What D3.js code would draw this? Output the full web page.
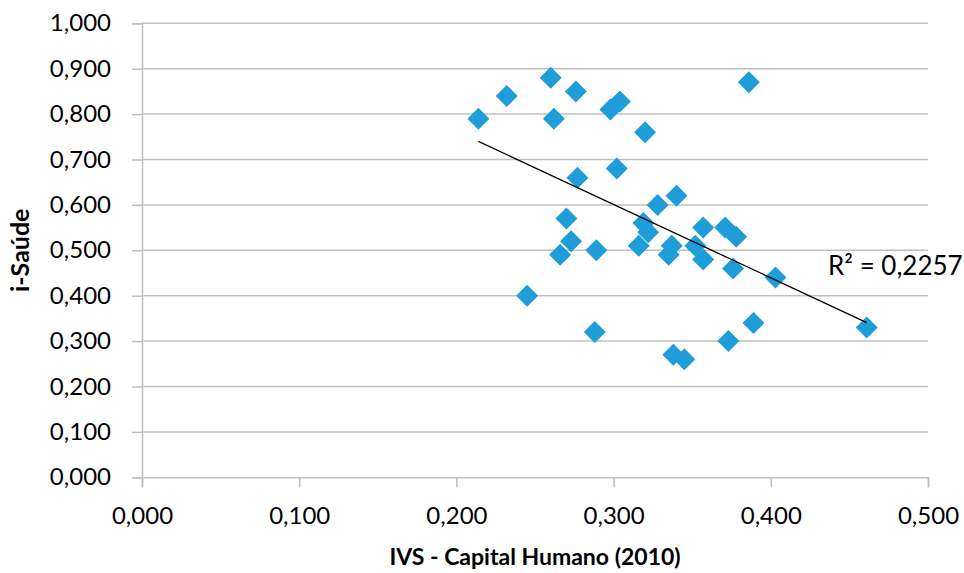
<!DOCTYPE html>
<html><head><meta charset="utf-8">
<script src="https://cdn.jsdelivr.net/npm/d3@7"></script>
<style>body{margin:0;background:#fff}svg{display:block}</style>
</head><body>
<script>
const xValues = [0.214,0.232,0.260,0.262,0.276,0.298,0.304,0.320,0.277,0.302,0.328,0.340,0.270,0.273,0.266,0.289,0.245,0.288,0.316,0.319,0.322,0.337,0.335,0.338,0.345,0.357,0.371,0.378,0.352,0.357,0.376,0.403,0.389,0.373,0.461,0.386];
const yValues = [0.790,0.840,0.880,0.790,0.850,0.810,0.828,0.760,0.660,0.680,0.600,0.620,0.570,0.520,0.490,0.500,0.400,0.320,0.510,0.560,0.540,0.510,0.490,0.270,0.260,0.550,0.550,0.530,0.510,0.480,0.460,0.440,0.340,0.300,0.330,0.870];
const xTicks = [0,0.1,0.2,0.3,0.4,0.5];
const yTicks = [0,0.1,0.2,0.3,0.4,0.5,0.6,0.7,0.8,0.9,1.0];
const r2Label = "R² = 0,2257";
const xTitle = "IVS - Capital Humano (2010)";
const yTitle = "i-Saúde";

const W = 964, H = 573;
const svg = d3.select("body").append("svg").attr("width", W).attr("height", H);
const x = d3.scaleLinear().domain([0, 0.5]).range([142, 928]);
const y = d3.scaleLinear().domain([0, 1]).range([477.3, 23.3]);
const fmt = v => d3.format(".3f")(v).replace(".", ",");
const font = "Lato, 'Open Sans', sans-serif";
const grid = "#bfbfbf";

// gridlines
svg.append("g").selectAll("line").data(yTicks.filter(d => d > 0)).join("line")
  .attr("x1", x(0)).attr("x2", x(0.5)).attr("y1", d => y(d)).attr("y2", d => y(d))
  .attr("stroke", grid).attr("stroke-width", 1.5);

// y axis
const ya = svg.append("g").attr("transform", `translate(${x(0)},0)`)
  .call(d3.axisLeft(y).tickValues(yTicks).tickFormat(fmt).tickSize(10).tickPadding(21));
ya.select(".domain").attr("stroke", grid).attr("stroke-width", 1.5);
ya.selectAll(".tick line").attr("stroke", grid).attr("stroke-width", 1.5);
ya.selectAll("text").attr("font-family", font).attr("font-size", 24).attr("fill", "#000");

// x axis
const xa = svg.append("g").attr("transform", `translate(0,${y(0)})`)
  .call(d3.axisBottom(x).tickValues(xTicks).tickFormat(fmt).tickSize(10).tickPadding(20));
xa.select(".domain").attr("stroke", grid).attr("stroke-width", 1.5);
xa.selectAll(".tick line").attr("stroke", grid).attr("stroke-width", 1.5);
xa.selectAll("text").attr("font-family", font).attr("font-size", 24).attr("fill", "#000");

// points
const diamond = d3.symbol().type(d3.symbolSquare).size(242);
svg.append("g").selectAll("path").data(xValues.map((v, i) => [v, yValues[i]])).join("path")
  .attr("d", diamond)
  .attr("transform", d => `translate(${x(d[0])},${y(d[1])}) rotate(45)`)
  .attr("fill", "#1f9dd9");

// linear trend (least squares)
const mx = d3.mean(xValues), my = d3.mean(yValues);
const sxy = d3.sum(xValues, (v, i) => (v - mx) * (yValues[i] - my));
const sxx = d3.sum(xValues, v => (v - mx) ** 2);
const b = sxy / sxx, a = my - b * mx;
const [x0, x1] = d3.extent(xValues);
svg.append("line")
  .attr("x1", x(x0)).attr("y1", y(a + b * x0))
  .attr("x2", x(x1)).attr("y2", y(a + b * x1))
  .attr("stroke", "#000").attr("stroke-width", 1.3);

svg.append("text").attr("x", 828).attr("y", 275)
  .attr("font-family", font).attr("font-size", 26).text(r2Label);

svg.append("text").attr("x", (x(0) + x(0.5)) / 2).attr("y", 565)
  .attr("text-anchor", "middle").attr("font-family", font).attr("font-weight", "bold")
  .attr("font-size", 23).text(xTitle);
svg.append("text").attr("transform", `translate(29,${(y(0) + y(1)) / 2}) rotate(-90)`)
  .attr("text-anchor", "middle").attr("font-family", font).attr("font-weight", "bold")
  .attr("font-size", 25).text(yTitle);
</script>
</body></html>
